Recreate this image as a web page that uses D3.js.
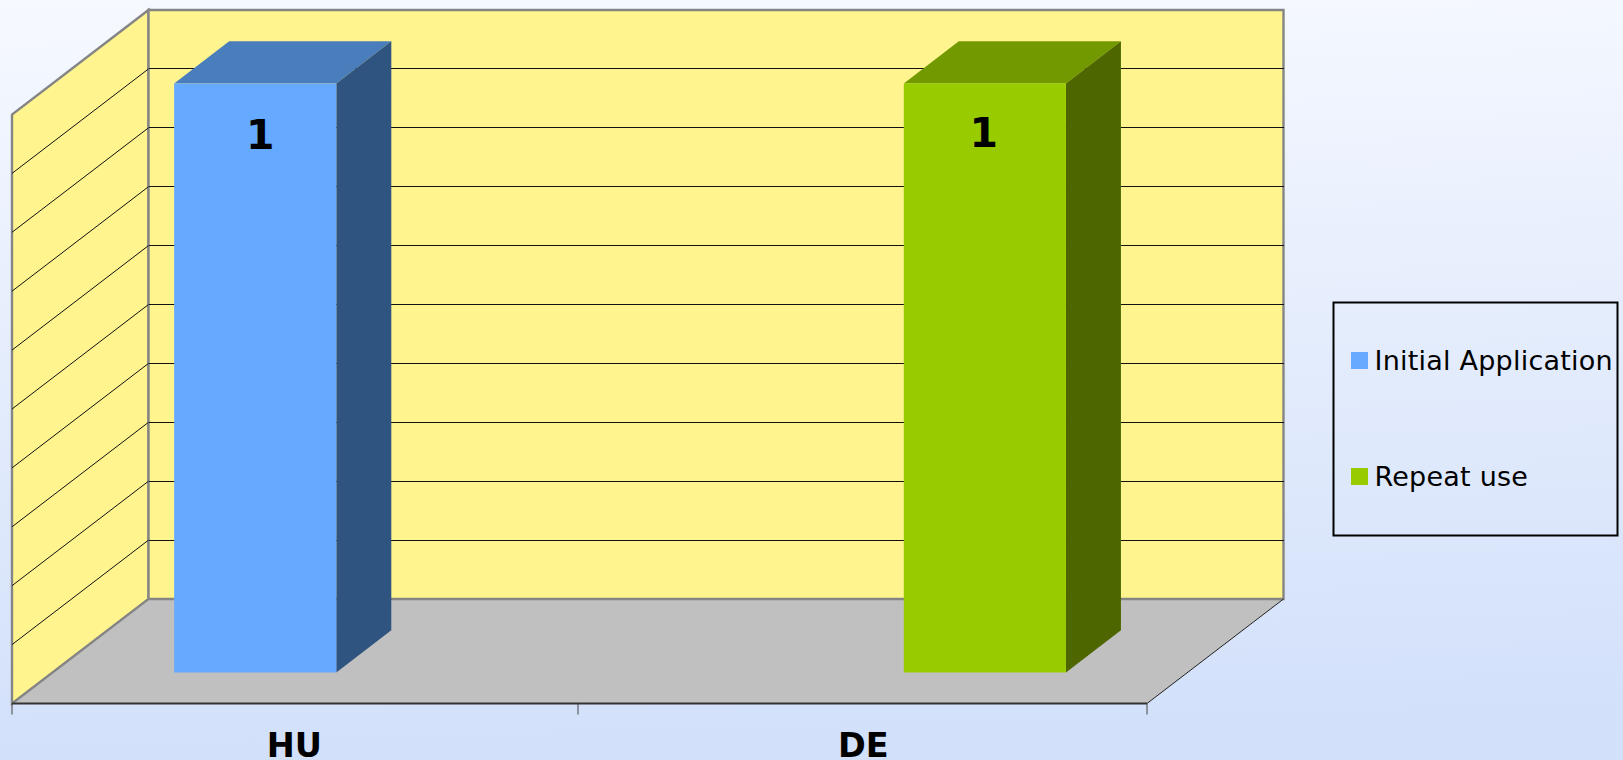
<!DOCTYPE html>
<html>
<head>
<meta charset="utf-8">
<title>Chart</title>
<script src="https://cdnjs.cloudflare.com/ajax/libs/d3/7.8.5/d3.min.js"></script>
<style>
html, body { margin: 0; padding: 0; background: #d5e2fb; overflow: hidden; }
svg { display: block; font-family: "DejaVu Sans", sans-serif; }
</style>
</head>
<body>
<svg id="chart" width="1623" height="760"></svg>
<script>
// -- Data --
const categories = ["HU", "DE"];
const seriesNames = ["Initial Application", "Repeat use"];
const initialValues = [1, 0];
const repeatValues = [0, 1];
const gridTicks = [0.1, 0.2, 0.3, 0.4, 0.5, 0.6, 0.7, 0.8, 0.9];

// -- Colours --
const seriesColors = [
    { front: "#66aaff", top: "#4a7dbb", side: "#2f5480" },
    { front: "#99cc00", top: "#739900", side: "#4d6600" }
];
const WALL = "#fff48e";
const FLOOR = "#c0c0c0";
const EDGE = "#858585";

const svg = d3.select("#chart");

// -- Background gradient --
const defs = svg.append("defs");
const bg = defs.append("linearGradient")
    .attr("id", "bg")
    .attr("x1", 0).attr("y1", 0).attr("x2", 0.06).attr("y2", 1);
bg.append("stop").attr("offset", "0%").attr("stop-color", "#f6f9ff");
bg.append("stop").attr("offset", "100%").attr("stop-color", "#d2e0fa");

svg.append("rect")
    .attr("width", 1623).attr("height", 760)
    .attr("fill", "url(#bg)");

// -- Scales --
// x and y are measured on the front plane; depth slides a point towards the back wall.
const x = d3.scaleBand().domain(categories).range([12, 1147]);
const xSeries = d3.scaleBand().domain(seriesNames).range([0, x.bandwidth()]).paddingOuter(0.75);
const y = d3.scaleLinear().domain([0, 1]).range([703.5, 114.5]);
const DEPTH_X = 136.5;
const DEPTH_Y = 104.5;

function project(px, value, depth) {
    return [px + DEPTH_X * depth, y(value) - DEPTH_Y * depth];
}

const line = d3.line();
const poly = pts => line(pts) + "Z";

// -- Walls and floor --
const xMin = x.range()[0];
const xMax = x.range()[1];

svg.append("path")
    .attr("d", poly([project(xMin, 0, 0), project(xMax, 0, 0), project(xMax, 0, 1), project(xMin, 0, 1)]))
    .attr("fill", FLOOR);

svg.append("path")
    .attr("d", poly([project(xMin, 0, 0), project(xMin, 0, 1), project(xMin, 1, 1), project(xMin, 1, 0)]))
    .attr("fill", WALL)
    .attr("stroke", EDGE)
    .attr("stroke-width", 2.4);

svg.append("path")
    .attr("d", poly([project(xMin, 0, 1), project(xMax, 0, 1), project(xMax, 1, 1), project(xMin, 1, 1)]))
    .attr("fill", WALL)
    .attr("stroke", EDGE)
    .attr("stroke-width", 2.4);

// Grid lines run along the side wall and then across the back wall.
svg.selectAll(".grid-side")
    .data(gridTicks)
    .join("path")
    .attr("class", "grid-side")
    .attr("d", d => line([project(xMin, d, 0), project(xMin, d, 1)]))
    .attr("fill", "none")
    .attr("stroke", "#111")
    .attr("stroke-width", 1);

svg.selectAll(".grid-back")
    .data(gridTicks)
    .join("path")
    .attr("class", "grid-back")
    .attr("d", d => line([project(xMin, d, 1), project(xMax, d, 1)]))
    .attr("fill", "none")
    .attr("stroke", "#111")
    .attr("stroke-width", 1)
    .attr("shape-rendering", "crispEdges");

// Floor edges
svg.append("path")
    .attr("d", line([project(xMax, 0, 0), project(xMax, 0, 1)]))
    .attr("stroke", "#222")
    .attr("stroke-width", 1)
    .attr("fill", "none");

svg.append("path")
    .attr("d", line([project(xMin, 0, 0), project(xMax, 0, 0)]))
    .attr("stroke", "#333")
    .attr("stroke-width", 2)
    .attr("fill", "none");

// -- Category ticks and labels --
svg.selectAll(".tick")
    .data([xMin, x(categories[1]) - 1.5, xMax])
    .join("line")
    .attr("class", "tick")
    .attr("x1", d => d).attr("x2", d => d)
    .attr("y1", y(0)).attr("y2", y(0) + 11)
    .attr("stroke", "#444")
    .attr("stroke-width", 1);

svg.selectAll(".cat")
    .data(categories)
    .join("text")
    .attr("class", "cat")
    .attr("x", (d, i) => x(d) + x.bandwidth() / 2 - (i === 0 ? 1.5 : 0))
    .attr("y", 757)
    .attr("text-anchor", "middle")
    .attr("font-size", 33.5)
    .attr("font-weight", "bold")
    .attr("fill", "#000")
    .text(d => d);

// -- Bars --
const BAR_NEAR = 0.297;
const BAR_FAR = 0.7;
const allValues = [initialValues, repeatValues];
const bars = [];
seriesNames.forEach((name, s) => {
    categories.forEach((cat, c) => {
        if (allValues[s][c] > 0) {
            bars.push({ cat, name, value: allValues[s][c], colors: seriesColors[s] });
        }
    });
});

const barGroups = svg.selectAll(".bar").data(bars).join("g").attr("class", "bar");

barGroups.each(function (d) {
    const g = d3.select(this);
    const x0 = x(d.cat) + xSeries(d.name);
    const x1 = x0 + xSeries.bandwidth();
    const nearA = project(x0, d.value, BAR_NEAR);
    const nearB = project(x1, d.value, BAR_NEAR);
    const nearC = project(x1, 0, BAR_NEAR);
    const nearD = project(x0, 0, BAR_NEAR);
    const farA = project(x0, d.value, BAR_FAR);
    const farB = project(x1, d.value, BAR_FAR);
    const farC = project(x1, 0, BAR_FAR);

    g.append("path").attr("d", poly([nearA, nearB, farB, farA])).attr("fill", d.colors.top);
    g.append("path").attr("d", poly([nearB, farB, farC, nearC])).attr("fill", d.colors.side);
    g.append("path").attr("d", poly([nearA, nearB, nearC, nearD])).attr("fill", d.colors.front);

    g.append("text")
        .attr("x", (x0 + x1) / 2 + DEPTH_X * BAR_NEAR + (d.cat === "HU" ? 5 : -1))
        .attr("y", nearA[1] + (d.cat === "HU" ? 66 : 64))
        .attr("text-anchor", "middle")
        .attr("font-size", 41)
        .attr("font-weight", "bold")
        .attr("fill", "#000")
        .text(d.value);
});

// -- Legend --
svg.append("rect")
    .attr("x", 1333.5).attr("y", 302.5)
    .attr("width", 284).attr("height", 233)
    .attr("fill", "none")
    .attr("stroke", "#000")
    .attr("stroke-width", 2);

const legendY = d3.scalePoint().domain(seriesNames).range([352, 468]);

const legend = svg.selectAll(".legend")
    .data(seriesNames)
    .join("g")
    .attr("class", "legend")
    .attr("transform", d => `translate(1351, ${legendY(d)})`);

legend.append("rect")
    .attr("width", 17).attr("height", 17)
    .attr("fill", (d, i) => seriesColors[i].front);

legend.append("text")
    .attr("x", 23.5)
    .attr("y", 18)
    .attr("font-size", 27)
    .attr("letter-spacing", 0.22)
    .attr("fill", "#000")
    .text(d => d);
</script>
</body>
</html>
